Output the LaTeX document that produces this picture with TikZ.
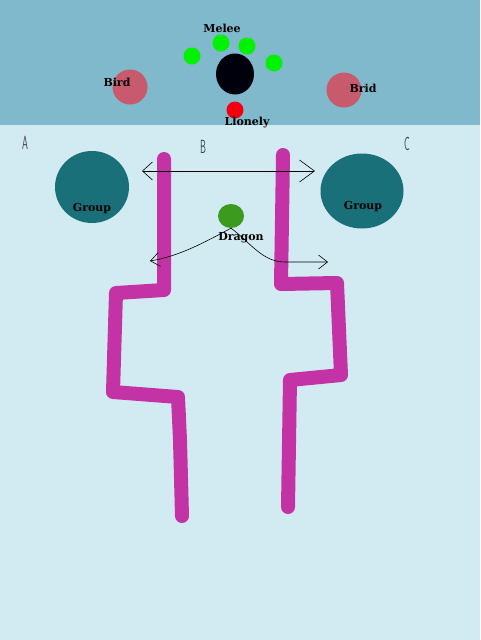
\documentclass[tikz,border=0pt]{standalone}
\usepackage{fontspec}
\newfontfamily\markfont{DejaVu Serif}
\usetikzlibrary{arrows.meta, shapes.geometric}
\definecolor{topbg}{HTML}{80B9CB}
\definecolor{lowbg}{HTML}{D2EAF2}
\definecolor{birdred}{HTML}{C85A6E}
\definecolor{groupteal}{HTML}{1A7078}
\definecolor{dragongreen}{HTML}{3C9A1E}
\definecolor{wallpink}{HTML}{C433A6}
\definecolor{letgray}{HTML}{3C4650}

\begin{document}
\begin{tikzpicture}[x=1pt, y=-1pt,
    blob/.style={ellipse, inner sep=0pt, minimum width=#1, minimum height=#1},
    tag/.style={font=\markfont\bfseries\fontsize{11}{11}\selectfont, inner sep=0pt},
    zone/.style={font=\sffamily\fontsize{19}{19}\selectfont, text=letgray, xscale=0.5, inner sep=0pt},
    wall/.style={wallpink, line width=14pt, line cap=round, line join=round},
    barb/.style={semithick, -{Straight Barb[length=9pt, width=14pt]}}]
  \useasboundingbox (0,0) rectangle (480,640);
  \fill[lowbg] (0,0) rectangle (480,640);
  \fill[topbg] (0,0) rectangle (480,125);

  % top band
  \node[blob=17pt, fill=green!95!black] (m1) at (192,56) {};
  \foreach \x/\y [count=\i from 2] in {221/43, 247/46, 274/63}
    \node[blob=17pt, fill=green!95!black] (m\i) at (\x,\y) {};
  \node[tag] (melee) at (222,28) {Melee};
  \node[blob=41pt, minimum width=38pt, fill=black!95!blue] (boss) at (235,74) {};
  \node[blob=17pt, fill=red!95!blue] (lionely) at (235,110) {};
  \node[tag] (lionelytag) at (247,123) {Llonely};
  \node[blob=35pt, fill=birdred] (bird) at (130,87) {};
  \node[tag] (birdtag) at (117,82) {Bird};
  \node[blob=35pt, fill=birdred] (brid) at (344,90) {};
  \node[tag] (bridtag) at (363,88) {Brid};

  % lower area
  \node[zone] (za) at (25,143) {A};
  \node[zone] (zb) at (203,147) {B};
  \node[zone] (zc) at (407,144) {C};
  \node[blob=72pt, minimum width=74pt, fill=groupteal] (grpa) at (92,187) {};
  \node[tag] at (92,209) {Group};
  \node[blob=75pt, minimum width=83pt, fill=groupteal] (grpc) at (362,191) {};
  \node[tag] at (363,207) {Group};

  \draw[wall] (164,159) -- (164,290) -- (116,293) -- (113,392) -- (178,397)
    -- (180,440) -- (182,516);
  \draw[wall] (283,155) -- (281,284) -- (337,283) -- (341,375) -- (290,380)
    -- (288,507);

  \node[blob=24pt, minimum width=26pt, fill=dragongreen] (dragon) at (231,216) {};
  \node[tag] (dragontag) at (241,238) {Dragon};

  \coordinate (wl) at (142,171);
  \coordinate (wr) at (315,171);
  \coordinate (dl) at (150,261);
  \coordinate (dr) at (328,262);
  \draw[semithick, {Straight Barb[length=10pt, width=18pt]}-{Straight Barb[length=15pt, width=22pt]}] (wl) -- (wr);
  \draw[barb] (dragon.south) .. controls (205,242) and (180,256) .. (dl);
  \draw[barb] (dragon.south) .. controls (250,242) and (262,262) .. (285,262) -- (dr);
\end{tikzpicture}
\end{document}
